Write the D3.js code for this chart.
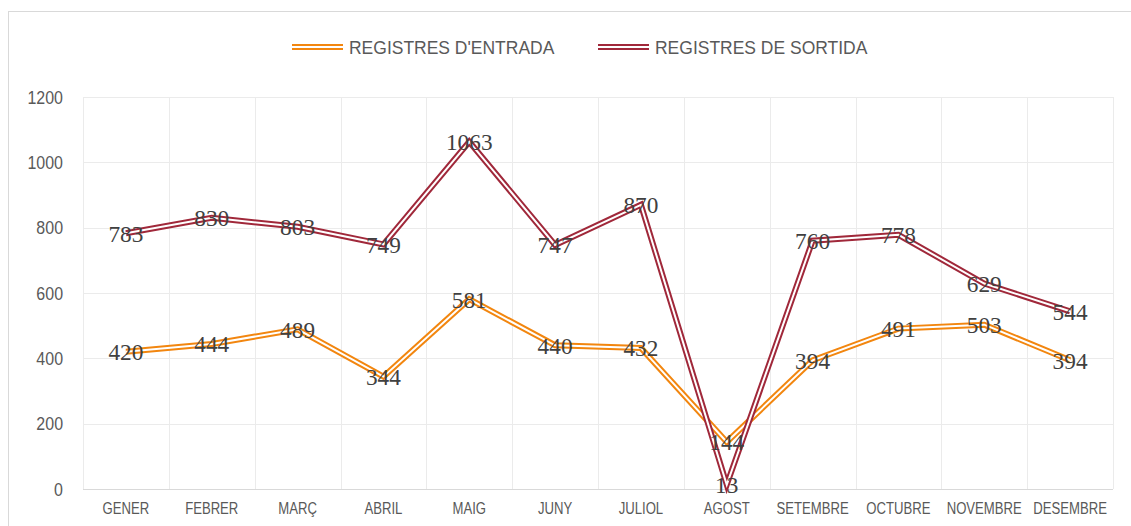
<!DOCTYPE html>
<html>
<head>
<meta charset="utf-8">
<script src="https://cdn.jsdelivr.net/npm/d3@7"></script>
<style>
  body { margin: 0; background: #fff; }
  .tick-label { font-family: "Liberation Sans", Arial, sans-serif; fill: #595959; }
  .data-label { font-family: "Liberation Serif", "Times New Roman", serif; fill: #404040; }
</style>
</head>
<body>
<div id="chart"></div>
<script>
var months = ["GENER", "FEBRER", "MARÇ", "ABRIL", "MAIG", "JUNY", "JULIOL", "AGOST", "SETEMBRE", "OCTUBRE", "NOVEMBRE", "DESEMBRE"];
var entrada = [420, 444, 489, 344, 581, 440, 432, 144, 394, 491, 503, 394];
var sortida = [783, 830, 803, 749, 1063, 747, 870, 13, 760, 778, 629, 544];
var yTicks = [0, 200, 400, 600, 800, 1000, 1200];
var seriesNames = ["REGISTRES D'ENTRADA", "REGISTRES DE SORTIDA"];
var seriesColors = ["#f2860f", "#a0283a"];

(function() {
  var W = 1131, H = 526;
  var margin = { top: 97, left: 83, right: 18, bottom: 37 },
  width = W - margin.left - margin.right,
  height = H - margin.top - margin.bottom;

  var root = d3.select("#chart")
    .append("svg")
    .attr("width", W)
    .attr("height", H);

  // chart area border
  root.append("rect")
    .attr("x", 8.5)
    .attr("y", 11.5)
    .attr("width", W + 20)
    .attr("height", H + 20)
    .attr("fill", "white")
    .attr("stroke", "#d9d9d9");

  // squeeze text horizontally, the picture is a bit narrow
  function squeeze(sel, k) {
    sel.each(function() {
      var len = this.getComputedTextLength();
      d3.select(this)
        .attr("textLength", len * k)
        .attr("lengthAdjust", "spacingAndGlyphs");
    });
  }

  var svg = root.append("g")
    .attr("transform", "translate(" + margin.left + "," + margin.top + ")");

  var xBand = d3.scaleBand()
    .domain(months)
    .range([0, width]);

  var yScale = d3.scaleLinear()
    .domain([0, 1200])
    .range([height, 0]);

  function xCenter(d) {
    return xBand(d) + xBand.bandwidth() / 2;
  }

  // grid
  var vLines = months.map(function(m) { return xBand(m) }).concat([width]);
  svg.selectAll(".vgrid")
    .data(vLines)
    .enter().append("line")
    .attr("x1", function(d) { return Math.round(d) + 0.5 })
    .attr("x2", function(d) { return Math.round(d) + 0.5 })
    .attr("y1", 0)
    .attr("y2", height)
    .attr("stroke", "#ebebeb");

  svg.selectAll(".hgrid")
    .data(yTicks)
    .enter().append("line")
    .attr("x1", 0)
    .attr("x2", width)
    .attr("y1", function(d) { return Math.round(yScale(d)) + 0.5 })
    .attr("y2", function(d) { return Math.round(yScale(d)) + 0.5 })
    .attr("stroke", function(d) { return d === 0 ? "#d9d9d9" : "#ebebeb" });

  // y labels
  var yLabels = svg.selectAll(".ylab")
    .data(yTicks)
    .enter().append("text")
    .attr("class", "tick-label")
    .attr("x", -20)
    .attr("y", function(d) { return yScale(d) })
    .attr("dy", "0.35em")
    .attr("text-anchor", "end")
    .style("font-size", "19px")
    .text(function(d) { return d });
  squeeze(yLabels, 0.84);

  // x labels
  var xLabels = svg.selectAll(".xlab")
    .data(months)
    .enter().append("text")
    .attr("class", "tick-label")
    .attr("x", xCenter)
    .attr("y", height + 25)
    .attr("text-anchor", "middle")
    .style("font-size", "16px")
    .text(function(d) { return d });
  squeeze(xLabels, 0.82);

  var line = d3.line()
    .x(function(d, i) { return xCenter(months[i]) })
    .y(function(d) { return yScale(d) });

  // double line, colored then white center
  [entrada, sortida].forEach(function(values, s) {
    svg.append("path")
      .datum(values)
      .attr("d", line)
      .attr("fill", "none")
      .attr("stroke", seriesColors[s])
      .attr("stroke-width", 6)
      .attr("stroke-linejoin", "miter");

    svg.append("path")
      .datum(values)
      .attr("d", line)
      .attr("fill", "none")
      .attr("stroke", "white")
      .attr("stroke-width", 2)
      .attr("stroke-linejoin", "miter");
  });

  // data labels, centered on the points
  [entrada, sortida].forEach(function(values) {
    var labels = svg.selectAll(null)
      .data(values)
      .enter().append("text")
      .attr("class", "data-label")
      .attr("x", function(d, i) { return xCenter(months[i]) })
      .attr("y", function(d) { return yScale(d) })
      .attr("dy", "0.35em")
      .attr("text-anchor", "middle")
      .style("font-size", "24px")
      .text(function(d) { return d });
    squeeze(labels, 0.97);
  });

  // legend
  var legendX = [292, 598];
  seriesNames.forEach(function(name, s) {
    var g = root.append("g")
      .attr("transform", "translate(" + legendX[s] + ",47)");

    g.append("line")
      .attr("x1", 0)
      .attr("x2", 51)
      .attr("y1", 0)
      .attr("y2", 0)
      .attr("stroke", seriesColors[s])
      .attr("stroke-width", 6);

    g.append("line")
      .attr("x1", 0)
      .attr("x2", 51)
      .attr("y1", 0)
      .attr("y2", 0)
      .attr("stroke", "white")
      .attr("stroke-width", 2);

    var t = g.append("text")
      .attr("class", "tick-label")
      .attr("x", 57)
      .attr("y", 0)
      .attr("dy", "0.35em")
      .style("font-size", "19px")
      .text(name);
    squeeze(t, 0.92);
  });

})();
</script>
</body>
</html>
